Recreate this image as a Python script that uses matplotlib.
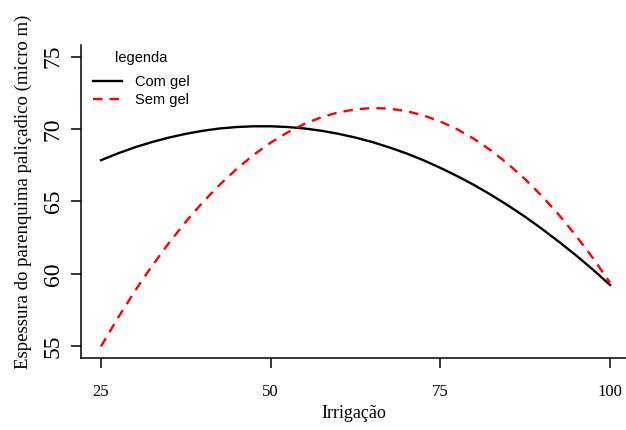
import matplotlib
matplotlib.use("Agg")
import matplotlib.pyplot as plt

# valores
irrigacao = [25, 27.5, 30, 32.5, 35, 37.5, 40, 42.5, 45, 47.5, 50, 52.5,
             55, 57.5, 60, 62.5, 65, 67.5, 70, 72.5, 75, 77.5, 80, 82.5,
             85, 87.5, 90, 92.5, 95, 97.5, 100]
com_gel = [67.85, 68.32, 68.74, 69.10, 69.41, 69.67, 69.88, 70.04, 70.14,
           70.19, 70.19, 70.14, 70.04, 69.88, 69.67, 69.41, 69.10, 68.73,
           68.32, 67.85, 67.32, 66.75, 66.13, 65.45, 64.72, 63.94, 63.10,
           62.21, 61.28, 60.29, 59.24]
sem_gel = [55.00, 56.97, 58.82, 60.54, 62.13, 63.60, 64.95, 66.16, 67.25,
           68.22, 69.06, 69.77, 70.36, 70.82, 71.15, 71.36, 71.45, 71.41,
           71.24, 70.94, 70.52, 69.98, 69.31, 68.51, 67.58, 66.53, 65.36,
           64.06, 62.63, 61.08, 59.40]
xticks = [25, 50, 75, 100]
yticks = [55, 60, 65, 70, 75]

W, H = 626, 430
fig = plt.figure(figsize=(W / 100, H / 100), dpi=100)
ax = fig.add_axes([80.6 / W, (H - 358) / H, 549.8 / W, 313 / H])

ax.plot(irrigacao, com_gel, color="black", lw=1.7, label="Com gel")
ax.plot(irrigacao, sem_gel, color="red", lw=1.7, dashes=(4, 3), label="Sem gel")

ax.set_xlim(22, 103)
ax.set_ylim(54.2, 75.8)
ax.spines["top"].set_visible(False)
ax.spines["right"].set_visible(False)
for s in ("left", "bottom"):
    ax.spines[s].set_linewidth(1.1)

serif = "Liberation Serif"
ax.set_xticks(xticks)
ax.set_xticklabels([str(v) for v in xticks], fontfamily=serif, fontsize=12)
ax.set_yticks(yticks)
ax.set_yticklabels([str(v) for v in yticks], fontfamily=serif, fontsize=17,
                   rotation=90, va="center")
ax.tick_params(axis="x", length=7, width=1.1, pad=12)
ax.tick_params(axis="y", length=7, width=1.1, pad=5)

fig.text(354 / W, 1 - 413 / H, "Irrigação", fontfamily=serif, fontsize=13,
         ha="center", va="center")
fig.text(23 / W, 1 - 192 / H, "Espessura do parenquima paliçadico (micro m)",
         fontfamily=serif, fontsize=13.5, rotation=90, ha="center", va="center")

leg = ax.legend(loc="upper left", bbox_to_anchor=(93 / W, 1 - 51 / H),
                bbox_transform=fig.transFigure, frameon=False, title="legenda",
                prop={"family": "Liberation Sans", "size": 10.5},
                title_fontproperties={"family": "Liberation Sans", "size": 10.5},
                handlelength=2.0, handletextpad=0.85, labelspacing=0.3,
                borderpad=0, borderaxespad=0)
leg._legend_box.sep = 7

fig.savefig("out.png", dpi=100)
